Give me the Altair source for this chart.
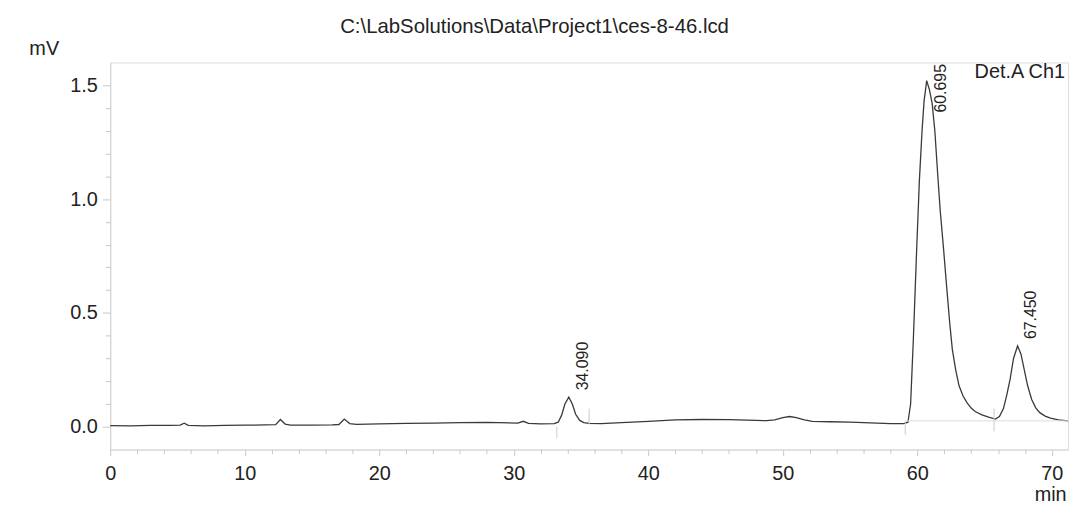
import altair as alt
import pandas as pd

# ---- data ----
time_min = [
    0.0, 1.5, 3.0, 4.5, 5.2, 5.5, 5.8, 7.0, 8.5, 10.0, 11.5, 12.3, 12.65, 13.0, 13.4,
    15.0, 16.5, 17.0, 17.4, 17.8, 18.3, 20.0, 22.0, 24.0, 26.0, 28.0, 30.3, 30.7, 31.1,
    32.0, 33.0, 33.3, 33.55, 33.8, 34.09, 34.35, 34.6, 34.9, 35.2, 35.6, 36.5, 38.0,
    40.0, 42.0, 44.0, 46.0, 48.0, 48.8, 49.4, 50.0, 50.5, 51.0, 51.6, 52.2, 53.5, 55.0,
    56.5, 58.0, 59.0, 59.3, 59.5, 59.7, 59.95, 60.15, 60.35, 60.5, 60.695, 60.9, 61.1,
    61.3, 61.5, 61.7, 61.95, 62.2, 62.4, 62.6, 62.85, 63.1, 63.4, 63.7, 64.0, 64.3,
    64.8, 65.3, 65.8, 66.1, 66.4, 66.65, 66.9, 67.15, 67.45, 67.7, 67.95, 68.2, 68.5,
    68.8, 69.1, 69.5, 69.9, 70.5, 71.2,
]
signal_mv = [
    0.005, 0.004, 0.006, 0.006, 0.007, 0.016, 0.006, 0.004, 0.006, 0.007, 0.008, 0.009,
    0.032, 0.012, 0.007, 0.007, 0.008, 0.010, 0.034, 0.014, 0.011, 0.013, 0.015, 0.016,
    0.018, 0.019, 0.016, 0.024, 0.015, 0.013, 0.014, 0.020, 0.050, 0.100, 0.130, 0.100,
    0.055, 0.028, 0.018, 0.015, 0.014, 0.018, 0.024, 0.030, 0.032, 0.031, 0.028, 0.027,
    0.030, 0.040, 0.045, 0.040, 0.030, 0.024, 0.022, 0.020, 0.017, 0.014, 0.014, 0.020,
    0.100, 0.380, 0.780, 1.080, 1.300, 1.430, 1.520, 1.480, 1.420, 1.300, 1.120, 0.950,
    0.780, 0.600, 0.460, 0.340, 0.250, 0.180, 0.135, 0.105, 0.082, 0.067, 0.052, 0.042,
    0.034, 0.045, 0.080, 0.140, 0.210, 0.300, 0.355, 0.320, 0.250, 0.180, 0.120, 0.083,
    0.062, 0.047, 0.038, 0.030, 0.026,
]

peak_times = [34.090, 60.695, 67.450]
peak_heights = [0.130, 1.520, 0.355]
peak_labels = ["34.090", "60.695", "67.450"]

marker_times = [33.2, 35.6, 59.1, 65.7]
marker_low = [-0.050, 0.010, -0.035, -0.020]
marker_high = [0.000, 0.080, 0.025, 0.080]

baseline_from = [59.1]
baseline_to = [71.2]
baseline_level = [0.026]

x_minor_ticks = [2, 4, 6, 8, 12, 14, 16, 18, 22, 24, 26, 28, 32, 34, 36, 38, 42, 44,
                 46, 48, 52, 54, 56, 58, 62, 64, 66, 68]
x_major_ticks = [0, 10, 20, 30, 40, 50, 60, 70]
y_minor_ticks = [0.1, 0.2, 0.3, 0.4, 0.6, 0.7, 0.8, 0.9, 1.1, 1.2, 1.3, 1.4]
y_major_ticks = [0.0, 0.5, 1.0, 1.5]

X_DOMAIN = [0, 71.2]
Y_DOMAIN = [-0.1, 1.6]

FONT = "Liberation Sans"
TEXT = "#222222"

trace = pd.DataFrame({"t": time_min, "v": signal_mv})
Y_TOP = Y_DOMAIN[1] - 0.22
peaks = pd.DataFrame({
    "t": peak_times,
    "v": [min(h + 0.03, Y_TOP) for h in peak_heights],
    "label": peak_labels,
})
markers = pd.DataFrame({"t": marker_times, "v": marker_low, "hi": marker_high})
base = pd.DataFrame({"t": baseline_from, "t2": baseline_to, "v": baseline_level})

x_scale = alt.Scale(domain=X_DOMAIN, nice=False, zero=False)
y_scale = alt.Scale(domain=Y_DOMAIN, nice=False, zero=False)

x_axis_major = alt.Axis(
    values=x_major_ticks, format="d",
    title="min", titleX=947, titleY=45, titleAlign="center", titleBaseline="middle",
    titleFont=FONT, titleFontSize=20, titleFontWeight="normal", titleColor=TEXT,
    labelFont=FONT, labelFontSize=20, labelColor=TEXT, labelPadding=8,
    tickColor="#c8c8c8", tickSize=6,
    domainColor="#d4d4d4", grid=False, labelFlush=False, labelOverlap=False,
)
y_axis_major = alt.Axis(
    values=y_major_ticks, format=".1f",
    title="mV", titleX=-67, titleY=-14, titleAngle=0, titleAlign="center",
    titleBaseline="middle", titleFont=FONT, titleFontSize=20,
    titleFontWeight="normal", titleColor=TEXT,
    labelFont=FONT, labelFontSize=20, labelColor=TEXT, labelPadding=5,
    tickColor="#c8c8c8", tickSize=8,
    domainColor="#d4d4d4", grid=False, labelOverlap=False,
)
x_axis_minor = alt.Axis(
    values=x_minor_ticks, labels=False, title=None,
    tickColor="#c8c8c8", tickSize=4, domain=False, grid=False, orient="bottom",
)
y_axis_minor = alt.Axis(
    values=y_minor_ticks, labels=False, title=None,
    tickColor="#c8c8c8", tickSize=5, domain=False, grid=False, orient="left",
)

X = alt.X("t:Q", scale=x_scale, axis=x_axis_major)
Y = alt.Y("v:Q", scale=y_scale, axis=y_axis_major)

line = alt.Chart(trace).mark_line(color="#3a3a3a", strokeWidth=1.3).encode(x=X, y=Y)

baseline_rule = alt.Chart(base).mark_rule(color="#dddddd", strokeWidth=1).encode(
    x=X, x2="t2:Q", y=Y,
)

marker_rules = alt.Chart(markers).mark_rule(color="#cccccc", strokeWidth=1).encode(
    x=X, y=Y, y2="hi:Q",
)

labels = alt.Chart(peaks).mark_text(
    angle=270, align="left", baseline="middle", dy=14,
    font=FONT, fontSize=16, color=TEXT,
).encode(x=X, y=Y, text="label:N")

channel = alt.Chart(pd.DataFrame({"name": ["Det.A Ch1"]})).mark_text(
    align="right", baseline="middle", font=FONT, fontSize=20, color=TEXT,
).encode(
    x=alt.value(962), y=alt.value(10), text="name:N",
)

main = alt.layer(line, baseline_rule, marker_rules, labels, channel)

minor = alt.Chart(trace).mark_line(opacity=0).encode(
    x=alt.X("t:Q", scale=x_scale, axis=x_axis_minor),
    y=alt.Y("v:Q", scale=y_scale, axis=y_axis_minor),
)

chart = alt.layer(main, minor).resolve_scale(x="independent", y="independent").properties(
    width=965,
    height=390,
    title=alt.TitleParams(
        text="C:\\LabSolutions\\Data\\Project1\\ces-8-46.lcd",
        anchor="middle", dx=-55, offset=1,
        font=FONT, fontSize=20.5, fontWeight="normal", color=TEXT,
    ),
    autosize=alt.AutoSizeParams(type="none"),
    padding={"left": 103, "top": 53, "right": 1, "bottom": 54},
).configure_view(stroke="#dddddd", strokeWidth=1).configure(background="white")

chart.save("out.html", embed_options={"renderer": "svg", "actions": False})
